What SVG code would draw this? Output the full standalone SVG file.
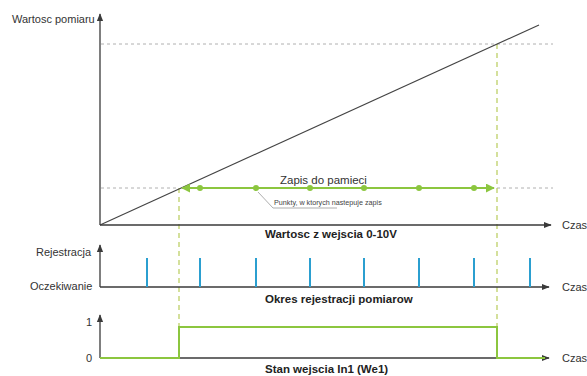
<svg xmlns="http://www.w3.org/2000/svg" width="587" height="376" viewBox="0 0 587 376">
<style>
.ax{stroke:#3a3a3a;stroke-width:1.3;fill:none}
.gd{stroke:#b0b0b0;stroke-width:1;stroke-dasharray:3,3;fill:none}
.vd{stroke:#b8cc5a;stroke-width:1.2;stroke-dasharray:5,4;fill:none}
.gr{stroke:#8cc63f;stroke-width:2;fill:none}
.bl{stroke:#2b9fd0;stroke-width:2}
.t{font-family:"Liberation Sans",Arial,sans-serif;font-size:11px;fill:#333}
.b{font-family:"Liberation Sans",Arial,sans-serif;font-size:11.5px;font-weight:bold;fill:#222}
.s{font-family:"Liberation Sans",Arial,sans-serif;font-size:7.2px;fill:#444}
</style>
<defs>
<marker id="ah" viewBox="0 0 10 10" refX="9" refY="5" markerWidth="6" markerHeight="6" orient="auto"><path d="M0,1 L10,5 L0,9 z" fill="#3a3a3a"/></marker>
<marker id="gh" viewBox="0 0 10 10" refX="9" refY="5" markerWidth="4.5" markerHeight="4.5" orient="auto-start-reverse"><path d="M0,0 L10,5 L0,10 z" fill="#8cc63f"/></marker>
</defs>
<g id="connectors">
<line class="gd" x1="101" y1="44" x2="553" y2="44"/>
<line class="gd" x1="101" y1="188" x2="179" y2="188"/>
<line class="gd" x1="497" y1="188" x2="553" y2="188"/>
<line class="vd" x1="179" y1="188" x2="179" y2="327"/>
<line class="vd" x1="497" y1="44" x2="497" y2="327"/>
<line x1="100" y1="225" x2="539" y2="25" stroke="#444" stroke-width="1.2"/>
<line class="gr" x1="182" y1="188" x2="494" y2="188" marker-start="url(#gh)" marker-end="url(#gh)"/>
<polyline points="258,192 273,208 337,208" fill="none" stroke="#999" stroke-width="0.8"/>
</g>
<g id="dots" fill="#8cc63f">
<circle cx="200" cy="188" r="3"/><circle cx="256" cy="188" r="3"/><circle cx="310" cy="188" r="3"/>
<circle cx="364" cy="188" r="3"/><circle cx="419" cy="188" r="3"/><circle cx="474" cy="188" r="3"/>
</g>
<g id="graph1">
<line class="ax" x1="100" y1="225" x2="100" y2="14" marker-end="url(#ah)"/>
<line class="ax" x1="100" y1="225" x2="551" y2="225" marker-end="url(#ah)"/>
<text class="t" x="12" y="23">Wartosc pomiaru</text>
<text class="t" x="562" y="229">Czas</text>
<text class="t" x="280" y="184" style="font-size:11.5px">Zapis do pamieci</text>
<text class="s" x="274" y="205">Punkty, w ktorych nastepuje zapis</text>
<text class="b" x="265" y="238">Wartosc z wejscia 0-10V</text>
</g>
<g id="graph2">
<line class="ax" x1="100" y1="287" x2="100" y2="245" marker-end="url(#ah)"/>
<line class="ax" x1="100" y1="287" x2="549" y2="287" marker-end="url(#ah)"/>
<g class="bl">
<line x1="147" y1="258" x2="147" y2="287"/><line x1="200" y1="258" x2="200" y2="287"/>
<line x1="256" y1="258" x2="256" y2="287"/><line x1="310" y1="258" x2="310" y2="287"/>
<line x1="364" y1="258" x2="364" y2="287"/><line x1="419" y1="258" x2="419" y2="287"/>
<line x1="474" y1="258" x2="474" y2="287"/><line x1="530" y1="258" x2="530" y2="287"/>
</g>
<text class="t" x="36" y="256">Rejestracja</text>
<text class="t" x="30" y="290">Oczekiwanie</text>
<text class="t" x="562" y="291">Czas</text>
<text class="b" x="265" y="303">Okres rejestracji pomiarow</text>
</g>
<g id="graph3">
<line class="ax" x1="100" y1="358" x2="100" y2="315" marker-end="url(#ah)"/>
<line class="ax" x1="100" y1="358" x2="549" y2="358" marker-end="url(#ah)"/>
<polyline class="gr" points="100,358 179,358 179,327 497,327 497,358 545,358"/>
<text class="t" x="86" y="326">1</text>
<text class="t" x="86" y="362">0</text>
<text class="t" x="562" y="362">Czas</text>
<text class="b" x="265" y="373">Stan wejscia In1 (We1)</text>
</g>
</svg>
